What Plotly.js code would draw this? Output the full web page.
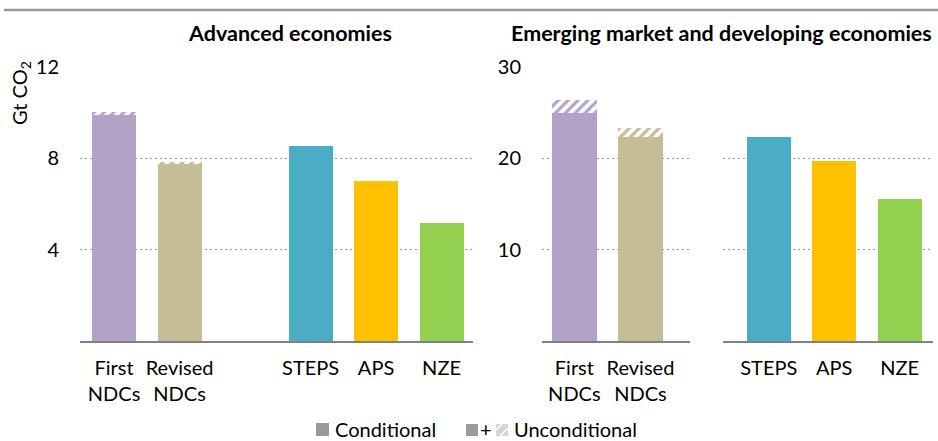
<!DOCTYPE html>
<html>
<head>
<meta charset="utf-8">
<script src="https://cdn.plot.ly/plotly-3.0.1.min.js"></script>
<style>html,body{margin:0;padding:0;background:#fff;}#chart{width:938px;height:441px;}</style>
</head>
<body>
<div id="chart"></div>
<script>
// ---- data ----
const ndcLabels = ["First<br>NDCs", "Revised<br>NDCs"];
const scenarioLabels = ["STEPS", "APS", "NZE"];
const ndcColors = ["#B3A2C7", "#C4BD97"];
const scenarioColors = ["#4BACC6", "#FFC000", "#92D050"];

// Advanced economies (Gt CO2)
const advNdcConditional = [9.89, 7.75];
const advNdcUnconditionalExtra = [0.14, 0.07];
const advScenario = [8.54, 6.99, 5.16];

// Emerging market and developing economies (Gt CO2)
const emdeNdcConditional = [25.0, 22.3];
const emdeNdcUnconditionalExtra = [1.4, 1.0];
const emdeScenario = [22.3, 19.7, 15.6];

const advTicks = [4, 8, 12];
const emdeTicks = [10, 20, 30];

// ---- helpers ----
const W = 938, H = 441;
const px = x => x / W;
const py = y => (H - y) / H;
const FONT = "Lato, 'Open Sans', sans-serif";
const hatch = {shape: "/", fgcolor: "#ffffff", size: 7, solidity: 0.45};

const traces = [
  {type: "bar", x: ndcLabels, y: advNdcConditional, xaxis: "x", yaxis: "y",
   marker: {color: ndcColors}, hoverinfo: "skip", showlegend: false},
  {type: "bar", x: ndcLabels, y: advNdcUnconditionalExtra, xaxis: "x", yaxis: "y",
   marker: {color: ndcColors, pattern: hatch}, hoverinfo: "skip", showlegend: false},
  {type: "bar", x: scenarioLabels, y: advScenario, xaxis: "x", yaxis: "y",
   marker: {color: scenarioColors}, hoverinfo: "skip", showlegend: false},
  {type: "bar", x: ndcLabels, y: emdeNdcConditional, xaxis: "x2", yaxis: "y2",
   marker: {color: ndcColors}, hoverinfo: "skip", showlegend: false},
  {type: "bar", x: ndcLabels, y: emdeNdcUnconditionalExtra, xaxis: "x2", yaxis: "y2",
   marker: {color: ndcColors, pattern: hatch}, hoverinfo: "skip", showlegend: false},
  {type: "bar", x: scenarioLabels, y: emdeScenario, xaxis: "x3", yaxis: "y3",
   marker: {color: scenarioColors}, hoverinfo: "skip", showlegend: false}
];

const yDomain = [py(341), py(67)];
const xCommon = {
  type: "category", showline: true, linecolor: "#808080", linewidth: 2,
  showgrid: false, zeroline: false, ticks: "outside", ticklen: 8,
  tickcolor: "rgba(0,0,0,0)", tickfont: {family: FONT, size: 20, color: "#000"},
  fixedrange: true
};
const yCommon = {
  showgrid: true, gridcolor: "#9a9a9a", gridwidth: 1.5, griddash: "2px,3px",
  zeroline: false, showline: false, ticks: "outside", ticklen: 16,
  tickcolor: "rgba(0,0,0,0)", tickfont: {family: FONT, size: 20, color: "#000"},
  domain: yDomain, fixedrange: true
};

const layout = {
  width: W, height: H,
  margin: {l: 0, r: 0, t: 0, b: 0},
  paper_bgcolor: "#fff", plot_bgcolor: "rgba(0,0,0,0)",
  barmode: "stack", bargap: 0.33,
  font: {family: FONT, size: 20, color: "#000"},
  showlegend: false,
  xaxis: Object.assign({}, xCommon, {domain: [px(80), px(473)], anchor: "y",
    categoryorder: "array", categoryarray: [...ndcLabels, " ", ...scenarioLabels],
    range: [-0.52, 5.48]}),
  yaxis: Object.assign({}, yCommon, {anchor: "x", range: [0, 12], tickvals: advTicks}),
  xaxis2: Object.assign({}, xCommon, {domain: [px(542), px(690)], anchor: "y2",
    categoryorder: "array", categoryarray: ndcLabels, range: [-0.49, 1.75]}),
  yaxis2: Object.assign({}, yCommon, {anchor: "x2", range: [0, 30], tickvals: emdeTicks}),
  xaxis3: Object.assign({}, xCommon, {domain: [px(723), px(933)], anchor: "y3",
    categoryorder: "array", categoryarray: scenarioLabels, range: [-0.70, 2.51]}),
  yaxis3: Object.assign({}, yCommon, {anchor: "x3", range: [0, 30], tickvals: emdeTicks,
    showticklabels: false}),
  shapes: [
    {type: "line", xref: "paper", yref: "paper", x0: px(4), x1: 1, y0: py(10), y1: py(10),
     line: {color: "#9a9a9a", width: 2.5}},
    {type: "rect", xref: "paper", yref: "paper", x0: px(316), x1: px(329), y0: py(436), y1: py(423),
     fillcolor: "#9a9a9a", line: {width: 0}},
    {type: "rect", xref: "paper", yref: "paper", x0: px(466), x1: px(478), y0: py(436), y1: py(424),
     fillcolor: "#9a9a9a", line: {width: 0}},
    {type: "rect", xref: "paper", yref: "paper", x0: px(496), x1: px(508), y0: py(436), y1: py(424),
     fillcolor: "#d4d4d4", line: {width: 0}},
    {type: "line", xref: "paper", yref: "paper", x0: px(496), x1: px(502), y0: py(430), y1: py(424),
     line: {color: "#ffffff", width: 1.5}},
    {type: "line", xref: "paper", yref: "paper", x0: px(500), x1: px(508), y0: py(436), y1: py(428),
     line: {color: "#ffffff", width: 1.5}}
  ],
  annotations: [
    {text: "<b>Advanced economies</b>", xref: "paper", yref: "paper", x: px(290), y: py(33),
     xanchor: "center", yanchor: "middle", showarrow: false, font: {family: FONT, size: 21.5, color: "#000"}},
    {text: "<b>Emerging market and developing economies</b>", xref: "paper", yref: "paper",
     x: px(721), y: py(33), xanchor: "center", yanchor: "middle", showarrow: false,
     font: {family: FONT, size: 21.5, color: "#000"}},
    {text: "Gt CO<sub>2</sub>", xref: "paper", yref: "paper", x: px(20), y: py(93),
     xanchor: "center", yanchor: "middle", textangle: -90, showarrow: false,
     font: {family: FONT, size: 20, color: "#000"}},
    {text: "Conditional", xref: "paper", yref: "paper", x: px(333), y: py(429),
     xanchor: "left", yanchor: "middle", showarrow: false, font: {family: FONT, size: 20, color: "#000"}},
    {text: "+", xref: "paper", yref: "paper", x: px(486), y: py(429),
     xanchor: "center", yanchor: "middle", showarrow: false, font: {family: FONT, size: 20, color: "#000"}},
    {text: "Unconditional", xref: "paper", yref: "paper", x: px(512), y: py(429),
     xanchor: "left", yanchor: "middle", showarrow: false, font: {family: FONT, size: 20, color: "#000"}}
  ]
};

Plotly.newPlot("chart", traces, layout, {displayModeBar: false, staticPlot: true});
</script>
</body>
</html>
